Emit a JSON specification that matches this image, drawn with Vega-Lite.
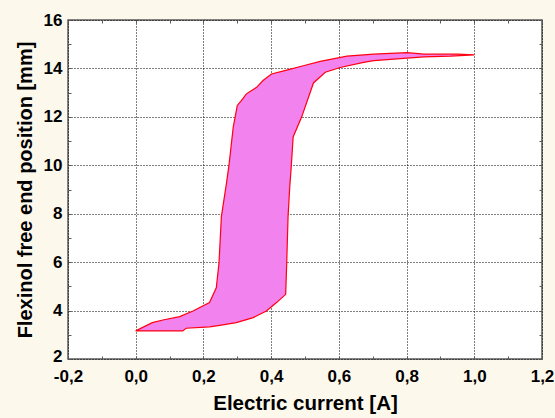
{
  "$schema": "https://vega.github.io/schema/vega-lite/v6.json",
  "width": 474,
  "height": 339,
  "autosize": {"type": "none"},
  "padding": {"left": 68, "top": 20, "right": 13, "bottom": 59},
  "background": "#fdf8ec",
  "config": {
    "view": {"fill": "white", "stroke": "#5a5a5a", "strokeWidth": 1.5},
    "font": "Liberation Sans",
    "axis": {"labelFont": "Liberation Sans", "titleFont": "Liberation Sans", "labelFontWeight": "bold", "titleFontWeight": "bold", "labelColor": "black", "titleColor": "black", "domain": false}
  },
  "data": {"values": [
    {"i": 0, "x": 0.0, "y": 3.16},
    {"i": 1, "x": 0.049, "y": 3.50},
    {"i": 2, "x": 0.08, "y": 3.61},
    {"i": 3, "x": 0.13, "y": 3.75},
    {"i": 4, "x": 0.169, "y": 3.98},
    {"i": 5, "x": 0.218, "y": 4.33},
    {"i": 6, "x": 0.238, "y": 4.94},
    {"i": 7, "x": 0.246, "y": 5.97},
    {"i": 8, "x": 0.253, "y": 7.88},
    {"i": 9, "x": 0.268, "y": 9.25},
    {"i": 10, "x": 0.276, "y": 10.07},
    {"i": 11, "x": 0.288, "y": 11.58},
    {"i": 12, "x": 0.30, "y": 12.47},
    {"i": 13, "x": 0.312, "y": 12.67},
    {"i": 14, "x": 0.327, "y": 12.95},
    {"i": 15, "x": 0.357, "y": 13.22},
    {"i": 16, "x": 0.376, "y": 13.50},
    {"i": 17, "x": 0.401, "y": 13.77},
    {"i": 18, "x": 0.446, "y": 13.93},
    {"i": 19, "x": 0.495, "y": 14.11},
    {"i": 20, "x": 0.545, "y": 14.29},
    {"i": 21, "x": 0.624, "y": 14.51},
    {"i": 22, "x": 0.703, "y": 14.59},
    {"i": 23, "x": 0.802, "y": 14.65},
    {"i": 24, "x": 0.851, "y": 14.59},
    {"i": 25, "x": 0.95, "y": 14.59},
    {"i": 26, "x": 1.0, "y": 14.56},
    {"i": 27, "x": 0.93, "y": 14.51},
    {"i": 28, "x": 0.851, "y": 14.48},
    {"i": 29, "x": 0.703, "y": 14.32},
    {"i": 30, "x": 0.673, "y": 14.25},
    {"i": 31, "x": 0.604, "y": 14.04},
    {"i": 32, "x": 0.56, "y": 13.84},
    {"i": 33, "x": 0.525, "y": 13.40},
    {"i": 34, "x": 0.49, "y": 11.99},
    {"i": 35, "x": 0.465, "y": 11.17},
    {"i": 36, "x": 0.46, "y": 10.07},
    {"i": 37, "x": 0.455, "y": 9.11},
    {"i": 38, "x": 0.45, "y": 7.88},
    {"i": 39, "x": 0.446, "y": 5.97},
    {"i": 40, "x": 0.443, "y": 4.67},
    {"i": 41, "x": 0.416, "y": 4.33},
    {"i": 42, "x": 0.386, "y": 3.98},
    {"i": 43, "x": 0.347, "y": 3.71},
    {"i": 44, "x": 0.297, "y": 3.50},
    {"i": 45, "x": 0.248, "y": 3.39},
    {"i": 46, "x": 0.218, "y": 3.33},
    {"i": 47, "x": 0.149, "y": 3.27},
    {"i": 48, "x": 0.139, "y": 3.16}
  ]},
  "layer": [
    {
      "mark": {"type": "line", "interpolate": "linear-closed", "fill": "#f282ee", "stroke": "#ff0010", "strokeWidth": 1.2},
      "encoding": {
        "x": {"field": "x", "type": "quantitative", "scale": {"domain": [-0.2, 1.2], "nice": false, "zero": false},
          "axis": {"orient": "bottom", "title": "Electric current [A]", "titleFontSize": 20.5, "titlePadding": 9, "labelFontSize": 17,
            "values": [-0.2,-0.1,0,0.1,0.2,0.3,0.4,0.5,0.6,0.7,0.8,0.9,1.0,1.1,1.2],
            "labelExpr": "round(datum.value*10) % 2 != 0 ? '' : replace(replace(format(datum.value, '.1f'), '.', ','), '\u2212', '-')",
            "labelFlush": false, "labelOverlap": false,
            "grid": true, "gridColor": "black", "gridDash": [1, 2], "gridWidth": 1,
            "gridOpacity": {"condition": {"test": "round(datum.value*10) % 2 != 0", "value": 0}, "value": 1},
            "ticks": true, "tickSize": -3, "tickColor": "#5a5a5a", "labelPadding": 12}},
        "y": {"field": "y", "type": "quantitative", "scale": {"domain": [2, 16], "nice": false, "zero": false},
          "axis": {"orient": "left", "title": "Flexinol free end position [mm]", "titleFontSize": 20, "titlePadding": 8, "labelFontSize": 17,
            "values": [2,3,4,5,6,7,8,9,10,11,12,13,14,15,16],
            "labelExpr": "datum.value % 2 != 0 ? '' : format(datum.value, 'd')",
            "labelOffset": {"condition": {"test": "datum.value == 2", "value": -3}, "value": 0},
            "labelFlush": false, "labelOverlap": false,
            "grid": true, "gridColor": "black", "gridDash": [1, 2], "gridWidth": 1,
            "gridOpacity": {"condition": {"test": "datum.value % 2 != 0", "value": 0}, "value": 1},
            "ticks": true, "tickSize": -3, "tickColor": "#5a5a5a", "labelPadding": 9}},
        "order": {"field": "i", "type": "quantitative"}
      }
    },
    {
      "mark": {"type": "point", "opacity": 0},
      "encoding": {
        "x": {"field": "x", "type": "quantitative",
          "axis": {"orient": "top", "title": null, "labels": false, "grid": false, "tickSize": -3, "tickColor": "#5a5a5a",
            "values": [-0.2,-0.1,0,0.1,0.2,0.3,0.4,0.5,0.6,0.7,0.8,0.9,1.0,1.1,1.2]}},
        "y": {"field": "y", "type": "quantitative",
          "axis": {"orient": "right", "title": null, "labels": false, "grid": false, "tickSize": -3, "tickColor": "#5a5a5a",
            "values": [2,3,4,5,6,7,8,9,10,11,12,13,14,15,16]}}
      }
    }
  ],
  "resolve": {"axis": {"x": "independent", "y": "independent"}}
}
